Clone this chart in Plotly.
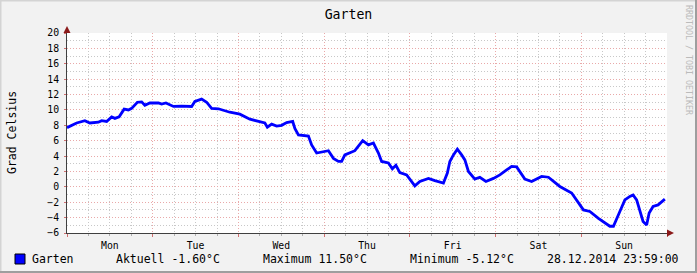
import pandas as pd
import plotly.graph_objects as go

# hours since Mon 22.12.2014 00:00
hours = [0.0, 1.3, 2.7, 5.0, 6.4, 8.8, 9.7, 11.1, 12.5, 13.4, 14.6, 16.0, 17.2, 18.1,
         19.7, 20.9, 21.8, 23.2, 25.6, 26.5, 27.7, 29.8, 32.1, 34.9, 35.8, 37.7, 39.1,
         40.5, 42.4, 45.6, 48.4, 51.2, 54.0, 55.4, 56.1, 57.3, 58.7, 60.1, 61.5, 63.2,
         63.8, 64.8, 67.6, 68.5, 69.9, 72.2, 73.2, 74.6, 76.0, 76.9, 77.8, 80.6, 81.6,
         82.8, 84.4, 85.8, 87.2, 88.1, 90.0, 91.1, 92.1, 93.2, 95.1, 97.4, 98.8, 101.2,
         103.0, 105.4, 106.5, 107.2, 108.2, 109.3, 110.5, 111.4, 112.4, 114.2, 115.6,
         117.3, 119.4, 121.2, 123.1, 124.5, 125.9, 128.2, 130.1, 132.9, 134.8, 138.0,
         141.3, 142.7, 144.6, 146.4, 148.8, 152.0, 153.0, 154.8, 156.2, 157.6, 158.5,
         159.5, 160.4, 161.3, 162.3, 163.0, 164.1, 165.5, 167.4]
temps = [7.7, 8.0, 8.3, 8.6, 8.3, 8.4, 8.6, 8.5, 9.1, 8.9, 9.1, 10.1, 10.0, 10.2,
         11.0, 11.05, 10.6, 10.9, 10.9, 10.75, 10.9, 10.45, 10.5, 10.45, 11.1, 11.4, 11.0,
         10.2, 10.15, 9.7, 9.45, 8.8, 8.5, 8.3, 7.75, 8.15, 7.9, 8.0, 8.35, 8.5,
         7.6, 6.75, 6.6, 5.45, 4.4, 4.6, 4.7, 3.7, 3.3, 3.3, 4.15, 4.7, 5.25,
         6.0, 5.45, 5.7, 4.4, 3.3, 3.1, 2.35, 2.8, 1.85, 1.55, 0.13, 0.7, 1.1,
         0.8, 0.5, 1.8, 3.3, 4.15, 4.9, 4.15, 3.5, 2.0, 1.0, 1.25,
         0.7, 1.1, 1.55, 2.2, 2.65, 2.6, 1.0, 0.7, 1.35, 1.25, 0.05,
         -0.8, -1.7, -3.0, -3.2, -4.1, -5.12, -5.12, -3.2, -1.7, -1.25, -1.05,
         -1.7, -3.0, -4.5, -4.95, -3.4, -2.55, -2.35, -1.6]

title = "Garten"
y_title = "Grad Celsius"
series_name = "Garten"
legend_items = ["Aktuell -1.60°C", "Maximum 11.50°C", "Minimum -5.12°C"]
stamp = "28.12.2014 23:59:00"
watermark = "RRDTOOL / TOBI OETIKER"

start = pd.Timestamp("2014-12-22 00:00")
end = pd.Timestamp("2014-12-29 00:00")
times = start + pd.to_timedelta(hours, unit="h")

FONT = "DejaVu Sans Mono"
W, H = 697, 273
L, R, T, B = 67, 30, 33, 40
PW, PH = W - L - R, H - T - B

def px(x):
    return (x - L) / PW

def py(y):
    return (H - B - y) / PH

fig = go.Figure()
fig.add_trace(go.Scatter(x=times, y=temps, mode="lines", name=series_name,
                         line=dict(color="#0000FF", width=2.8), hoverinfo="skip"))

fig.update_layout(
    width=W, height=H,
    margin=dict(l=L, r=R, t=T, b=B, pad=0),
    paper_bgcolor="#F2F2F2", plot_bgcolor="#FFFFFF",
    showlegend=False,
    font=dict(family=FONT, color="#000000", size=10),
    title=dict(text=title, x=0.5, xref="container", xanchor="center",
               y=1 - 14 / H, yref="container", yanchor="middle",
               font=dict(family=FONT, size=13.2, color="#000000")),
)

GRID_DASH = "1px,2px"
MAJOR = "#E9A9A9"
MINOR = "#C8C8C8"
fig.update_xaxes(
    type="date", range=[start, end],
    tick0=start, dtick=86400000, tickformat="%a", ticklabelmode="period",
    showgrid=True, gridcolor=MAJOR, griddash=GRID_DASH, gridwidth=1,
    ticks="outside", ticklen=3, tickcolor="#D07070",
    minor=dict(dtick=6 * 3600000, showgrid=True, gridcolor=MINOR, griddash=GRID_DASH,
               ticks="outside", ticklen=2, tickcolor="#B0B0B0"),
    showline=True, linecolor="#404040", linewidth=1,
    tickfont=dict(family=FONT, size=9.8, color="#000000"),
    zeroline=False, fixedrange=True,
)
fig.update_yaxes(
    range=[-6, 20], dtick=2, tick0=0,
    showgrid=True, gridcolor=MAJOR, griddash=GRID_DASH, gridwidth=1,
    ticks="outside", ticklen=2, tickcolor="#D07070",
    minor=dict(dtick=1, showgrid=True, gridcolor=MINOR, griddash=GRID_DASH),
    showline=True, linecolor="#404040", linewidth=1,
    tickfont=dict(family=FONT, size=9.8, color="#000000"),
    ticklabelstandoff=3,
    zeroline=False, fixedrange=True,
)

shapes = []
# arrows
shapes.append(dict(type="path", xref="paper", yref="paper",
                   path=f"M {px(63.5)} {py(33)} L {px(70.5)} {py(33)} L {px(67)} {py(26)} Z",
                   fillcolor="#8B1A1A", line=dict(width=0)))
shapes.append(dict(type="path", xref="paper", yref="paper",
                   path=f"M {px(667)} {py(229.5)} L {px(667)} {py(236.5)} L {px(674)} {py(233)} Z",
                   fillcolor="#8B1A1A", line=dict(width=0)))
# frame
shapes.append(dict(type="rect", xref="paper", yref="paper", x0=px(0), x1=px(W), y0=py(0), y1=py(1.5),
                   fillcolor="#D4D4D4", line=dict(width=0), layer="above"))
shapes.append(dict(type="rect", xref="paper", yref="paper", x0=px(0), x1=px(1.5), y0=py(0), y1=py(H),
                   fillcolor="#D4D4D4", line=dict(width=0), layer="above"))
shapes.append(dict(type="rect", xref="paper", yref="paper", x0=px(W - 2), x1=px(W), y0=py(0), y1=py(H),
                   fillcolor="#9E9E9E", line=dict(width=0), layer="above"))
shapes.append(dict(type="rect", xref="paper", yref="paper", x0=px(0), x1=px(W), y0=py(H - 2), y1=py(H),
                   fillcolor="#9E9E9E", line=dict(width=0), layer="above"))
# legend swatch
shapes.append(dict(type="rect", xref="paper", yref="paper", x0=px(15), x1=px(25), y0=py(254), y1=py(264),
                   fillcolor="#0000FF", line=dict(color="#000000", width=1)))
fig.update_layout(shapes=shapes)

ann = []
ann.append(dict(text=y_title, xref="paper", yref="paper", x=px(12), y=py(133), textangle=-90,
                showarrow=False, xanchor="center", yanchor="middle",
                font=dict(family=FONT, size=11.5, color="#000000")))
ann.append(dict(text=watermark, xref="paper", yref="paper", x=px(689), y=py(60), textangle=90,
                showarrow=False, xanchor="center", yanchor="middle",
                font=dict(family=FONT, size=8.3, color="#BBBBBB")))
leg_y = py(259)
ann.append(dict(text=series_name, xref="paper", yref="paper", x=px(30), y=leg_y, showarrow=False,
                xanchor="left", yanchor="middle", font=dict(family=FONT, size=11.5)))
for txt, xl in zip(legend_items, [114, 261, 408]):
    ann.append(dict(text=txt, xref="paper", yref="paper", x=px(xl), y=leg_y, showarrow=False,
                    xanchor="left", yanchor="middle", font=dict(family=FONT, size=11.5)))
ann.append(dict(text=stamp, xref="paper", yref="paper", x=px(681), y=leg_y, showarrow=False,
                xanchor="right", yanchor="middle", font=dict(family=FONT, size=11.5)))
fig.update_layout(annotations=ann)

fig.write_html("out.html")
